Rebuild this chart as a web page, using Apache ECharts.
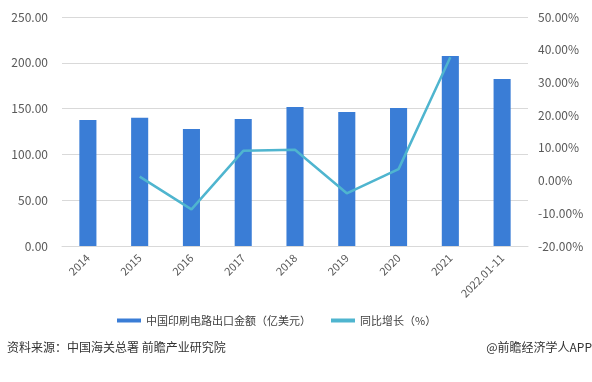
<!DOCTYPE html>
<html><head><meta charset="utf-8">
<script src="https://cdn.jsdelivr.net/npm/echarts@6/dist/echarts.min.js"></script>
<style>html,body{margin:0;padding:0;background:#fff;}#c{width:592px;height:382px;}</style>
</head><body><div id="c"></div>
<script>
var categories = ['2014','2015','2016','2017','2018','2019','2020','2021','2022.01-11'];
var exportValues = [137.5, 140.0, 127.7, 138.6, 151.7, 146.3, 150.7, 207.4, 182.3];
var growthRates = [null, 1.2, -8.8, 9.1, 9.4, -3.9, 3.5, 37.7, null];
var seriesNames = ['中国印刷电路出口金额（亿美元）', '同比增长（%）'];
var sourceText = '资料来源：中国海关总署 前瞻产业研究院';
var brandText = '@前瞻经济学人APP';

var chart = echarts.init(document.getElementById('c'));
var font = '"Microsoft YaHei","Noto Sans CJK SC",sans-serif';
chart.setOption({
  animation: false,
  textStyle: {fontFamily: font},
  grid: {left: 62, right: 64, top: 17, bottom: 136},
  legend: {
    bottom: 51, left: 112, itemGap: 20, itemWidth: 24, itemHeight: 4,
    textStyle: {fontSize: 11, color: '#404040', fontFamily: font},
    data: [
      {name: seriesNames[0], icon: 'rect'},
      {name: seriesNames[1], icon: 'rect'}
    ]
  },
  graphic: [
    {type: 'text', left: 7, top: 341, style: {text: sourceText, fontSize: 12, fill: '#333', fontFamily: font}},
    {type: 'text', right: 0, top: 341, style: {text: brandText, fontSize: 12, fill: '#333', fontFamily: font}}
  ],
  xAxis: {
    type: 'category', data: categories,
    axisLine: {lineStyle: {color: '#d9d9d9'}},
    axisTick: {show: false},
    axisLabel: {rotate: 45, color: '#595959', fontSize: 11, margin: 10}
  },
  yAxis: [
    {type: 'value', min: 0, max: 250, interval: 50,
     axisLabel: {formatter: function(v){return v.toFixed(2);}, color: '#595959', fontSize: 12, margin: 14},
     splitLine: {lineStyle: {color: '#d9d9d9'}}, axisLine: {show: false}, axisTick: {show: false}},
    {type: 'value', min: -20, max: 50, interval: 10,
     axisLabel: {formatter: function(v){return v.toFixed(2) + '%';}, color: '#595959', fontSize: 12, margin: 10},
     splitLine: {show: false}, axisLine: {show: false}, axisTick: {show: false}}
  ],
  series: [
    {name: seriesNames[0], type: 'bar', data: exportValues, barWidth: '33%',
     itemStyle: {color: '#3a7dd6'}},
    {name: seriesNames[1], type: 'line', yAxisIndex: 1, data: growthRates,
     symbol: 'none', lineStyle: {color: '#4fb5cf', width: 2.5}, itemStyle: {color: '#4fb5cf'}}
  ]
});
</script></body></html>
